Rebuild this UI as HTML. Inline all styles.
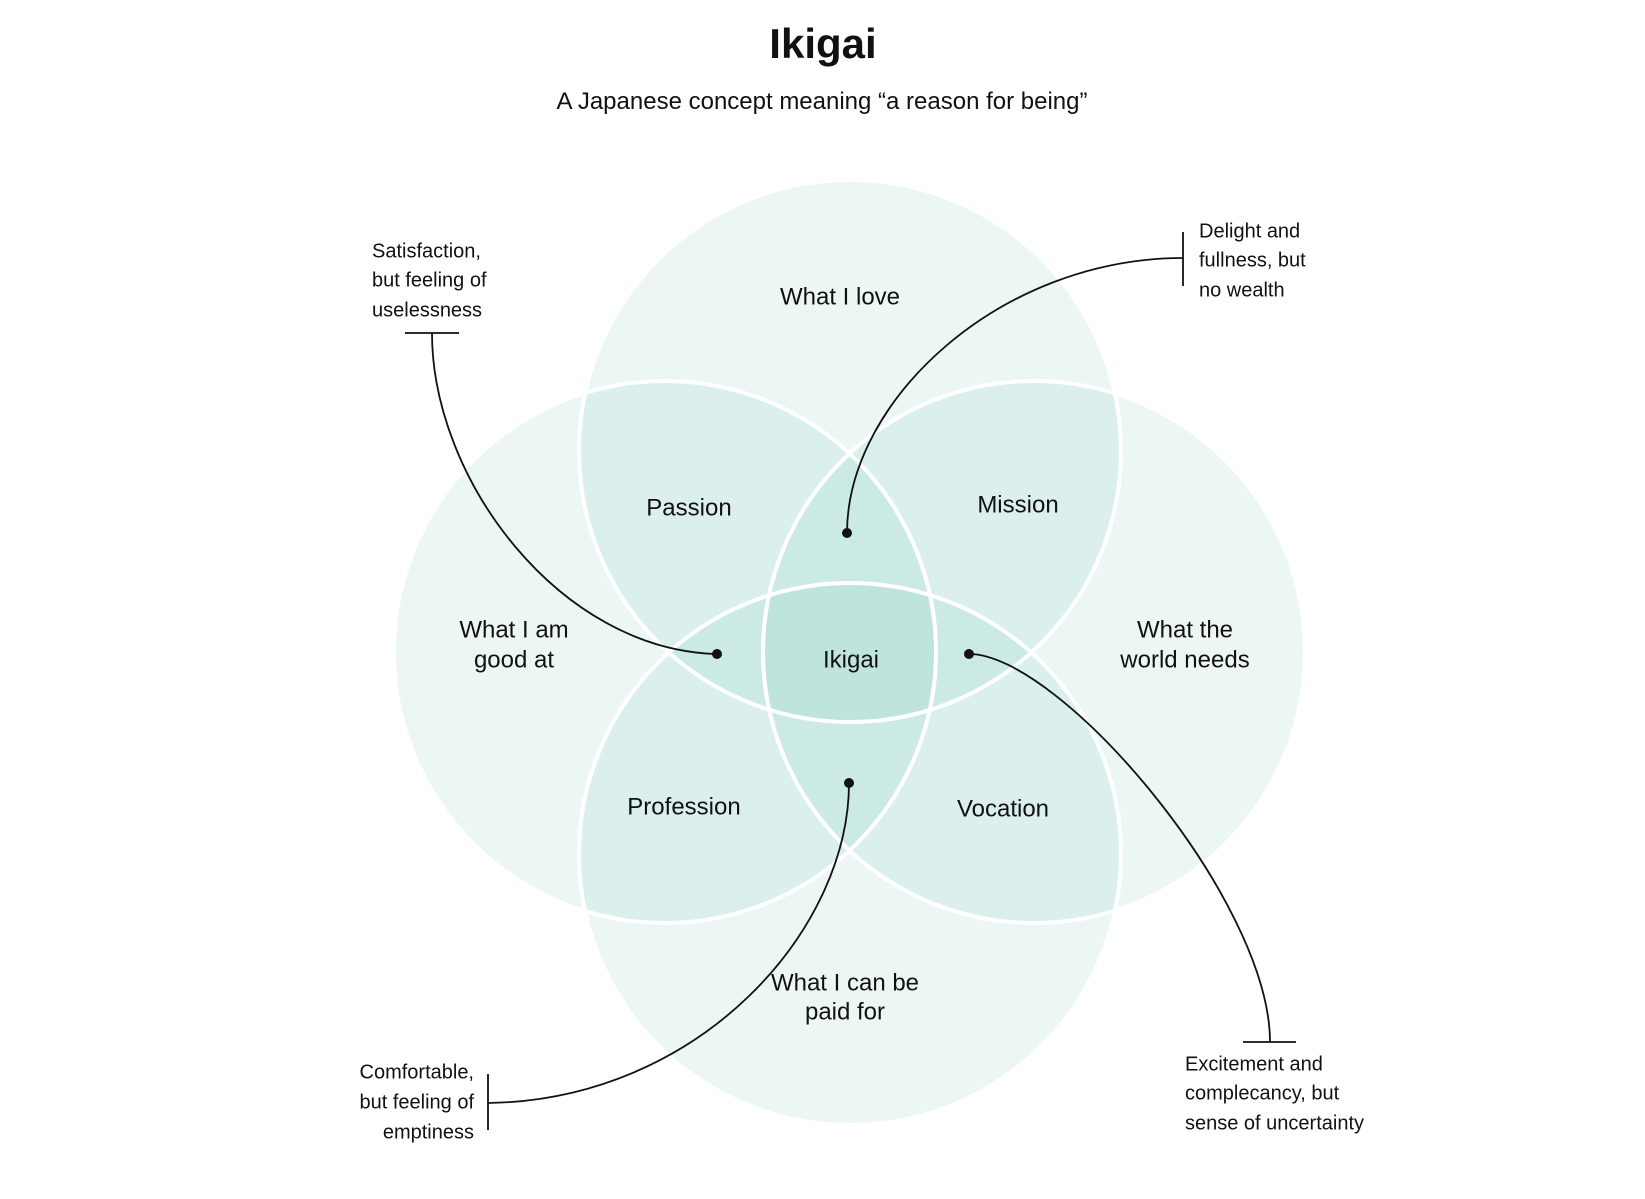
<!DOCTYPE html>
<html><head><meta charset="utf-8"><style>
html,body{margin:0;padding:0;background:#fff;}
svg{display:block;}
text{font-family:"Liberation Sans",sans-serif;fill:#111;}
.l{font-size:24px;text-anchor:middle;dominant-baseline:middle;}
.a{font-size:20px;dominant-baseline:middle;}
</style></head><body>
<svg width="1645" height="1199" viewBox="0 0 1645 1199" xmlns="http://www.w3.org/2000/svg">
<rect width="1645" height="1199" fill="#fff"/>
<text x="823" y="58" font-size="42" font-weight="bold" text-anchor="middle">Ikigai</text>
<text x="822" y="109" font-size="24" text-anchor="middle">A Japanese concept meaning “a reason for being”</text>
<g fill="#74c6b3" fill-opacity="0.135">
<circle cx="850" cy="451" r="271"/>
<circle cx="665" cy="652" r="271"/>
<circle cx="1034" cy="652" r="271"/>
<circle cx="850" cy="854" r="271"/>
</g>
<g fill="none" stroke="#fff" stroke-width="4">
<circle cx="850" cy="451" r="271"/>
<circle cx="665" cy="652" r="271"/>
<circle cx="1034" cy="652" r="271"/>
<circle cx="850" cy="854" r="271"/>
</g>
<text class="l" x="840" y="298">What I love</text>
<text class="l" x="689" y="509">Passion</text>
<text class="l" x="1018" y="506">Mission</text>
<text class="l" x="514" y="631">What I am</text>
<text class="l" x="514" y="661">good at</text>
<text class="l" x="851" y="661">Ikigai</text>
<text class="l" x="1185" y="631">What the</text>
<text class="l" x="1185" y="661">world needs</text>
<text class="l" x="684" y="808">Profession</text>
<text class="l" x="1003" y="810">Vocation</text>
<text class="l" x="845" y="984">What I can be</text>
<text class="l" x="845" y="1013">paid for</text>
<g stroke="#111" stroke-width="1.8" fill="none">
<path d="M405,333 H459"/>
<path d="M432,333 C432,480 560,650 717,654"/>
<path d="M1183,232 V286"/>
<path d="M1183,258 C1000,258 847,400 847,533"/>
<path d="M1243,1042 H1296"/>
<path d="M969,654 C1060,654 1270,900 1270,1042"/>
<path d="M488,1074 V1130"/>
<path d="M488,1103 C700,1100 849,930 849,783"/>
</g>
<g fill="#111">
<circle cx="717" cy="654" r="5"/>
<circle cx="847" cy="533" r="5"/>
<circle cx="969" cy="654" r="5"/>
<circle cx="849" cy="783" r="5"/>
</g>
<text class="a" x="372" y="252">Satisfaction,</text>
<text class="a" x="372" y="281">but feeling of</text>
<text class="a" x="372" y="311">uselessness</text>
<text class="a" x="1199" y="232">Delight and</text>
<text class="a" x="1199" y="261">fullness, but</text>
<text class="a" x="1199" y="291">no wealth</text>
<text class="a" x="1185" y="1065">Excitement and</text>
<text class="a" x="1185" y="1094">complecancy, but</text>
<text class="a" x="1185" y="1124">sense of uncertainty</text>
<text class="a" x="474" y="1073" text-anchor="end">Comfortable,</text>
<text class="a" x="474" y="1103" text-anchor="end">but feeling of</text>
<text class="a" x="474" y="1133" text-anchor="end">emptiness</text>
</svg>
</body></html>
